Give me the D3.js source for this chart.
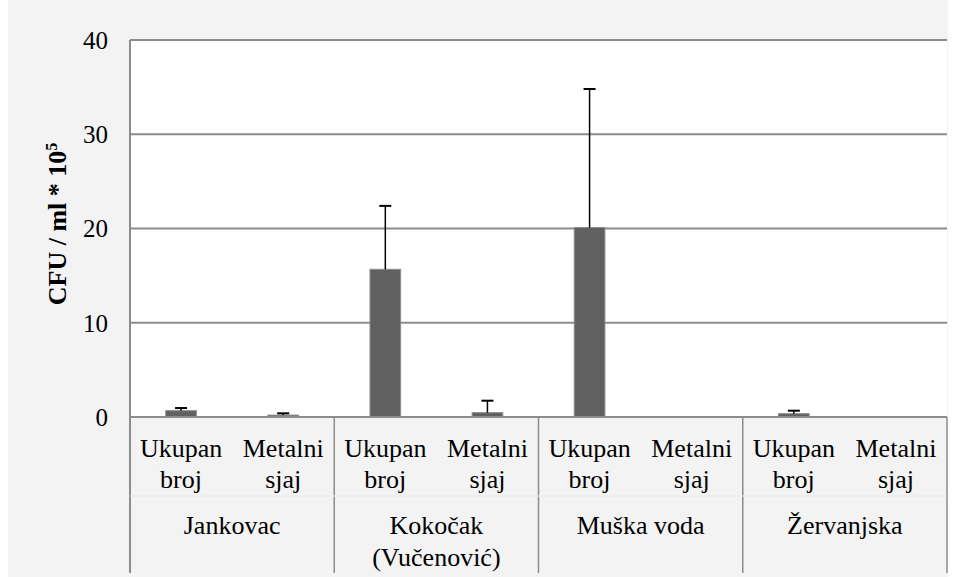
<!DOCTYPE html>
<html><head><meta charset="utf-8">
<script src="https://cdn.jsdelivr.net/npm/d3@7"></script>
</head><body style="margin:0"><svg id="c" width="963" height="577"></svg>
<script>
const groups = [["Jankovac"], ["Kokočak", "(Vučenović)"], ["Muška voda"], ["Žervanjska"]];
const subLabels = [["Ukupan", "broj"], ["Metalni", "sjaj"]];
const categories = ["J-U", "J-M", "K-U", "K-M", "M-U", "M-M", "Z-U", "Z-M"];
const values = [0.67, 0.2, 15.67, 0.46, 20.1, 0.02, 0.35, 0.03];
const errUpper = [0.28, 0.19, 6.73, 1.27, 14.7, 0, 0.32, 0];
const yTicks = [0, 10, 20, 30, 40];

const FONT = "'Liberation Serif'";
const svg = d3.select("#c");
const L = 130, R = 947, T = 40, B = 417;
svg.append("rect").attr("x", 8).attr("y", 0).attr("width", 940).attr("height", 577).attr("fill", "#f3f3f3");
svg.append("rect").attr("x", L).attr("y", T).attr("width", R - L).attr("height", B - T).attr("fill", "#fff");

const x = d3.scaleBand().domain(categories).range([L, R]).paddingInner(0.7).paddingOuter(0.35);
const y = d3.scaleLinear().domain([0, 40]).range([B, T]);
const grid = "#8c8c8c";

svg.append("g").selectAll("line").data(yTicks).join("line")
  .attr("x1", L).attr("x2", R).attr("y1", d => y(d)).attr("y2", d => y(d))
  .attr("stroke", grid).attr("stroke-width", 2);

svg.append("g").selectAll("rect").data(values).join("rect")
  .attr("x", (d, i) => x(categories[i])).attr("width", x.bandwidth())
  .attr("y", d => y(d)).attr("height", d => B - y(d))
  .attr("fill", "#606060").attr("stroke", "#8a8a8a").attr("stroke-width", 1);
const eb = svg.append("g").selectAll("g").data(values.map((v, i) => ({v, e: errUpper[i], c: categories[i]})).filter(d => d.e > 0)).join("g");
eb.append("line").attr("x1", d => x(d.c) + x.bandwidth() / 2).attr("x2", d => x(d.c) + x.bandwidth() / 2)
  .attr("y1", d => y(d.v)).attr("y2", d => y(d.v + d.e)).attr("stroke", "#000").attr("stroke-width", 1.5);
eb.append("line").attr("x1", d => x(d.c) + x.bandwidth() / 2 - 6).attr("x2", d => x(d.c) + x.bandwidth() / 2 + 6)
  .attr("y1", d => y(d.v + d.e)).attr("y2", d => y(d.v + d.e)).attr("stroke", "#000").attr("stroke-width", 2);

svg.append("line").attr("x1", L).attr("x2", L).attr("y1", T).attr("y2", 573).attr("stroke", grid).attr("stroke-width", 2);
svg.append("line").attr("x1", L).attr("x2", R).attr("y1", B).attr("y2", B).attr("stroke", grid).attr("stroke-width", 2);
const step = x.step();
groups.forEach((g, i) => {
  const gx = L + (i + 1) * step * 2;
  svg.append("line").attr("x1", gx).attr("x2", gx).attr("y1", B).attr("y2", 573).attr("stroke", grid).attr("stroke-width", 1.5);
});
svg.append("line").attr("x1", L).attr("x2", R).attr("y1", 496).attr("y2", 496).attr("stroke", "#e9e9e9").attr("stroke-width", 1);

// y tick labels (positions from the y scale)
svg.append("g").selectAll("text").data(yTicks).join("text")
  .attr("x", 108).attr("y", d => y(d)).attr("dy", "0.35em").attr("text-anchor", "end")
  .attr("font-size", 25).style("font-family", FONT).text(d => d);

categories.forEach((c, i) => {
  const cx = x(c) + x.bandwidth() / 2;
  subLabels[i % 2].forEach((t, k) => svg.append("text").attr("x", cx).attr("y", 457 + k * 31)
    .attr("text-anchor", "middle").attr("font-size", 26).style("font-family", FONT).text(t));
});
groups.forEach((g, i) => {
  const cx = L + (i + 0.5) * step * 2;
  g.forEach((t, k) => svg.append("text").attr("x", cx).attr("y", 534 + k * 32)
    .attr("text-anchor", "middle").attr("font-size", 26).style("font-family", FONT).text(t));
});

const yt = svg.append("text").attr("transform", "translate(66,224) rotate(-90)")
  .attr("text-anchor", "middle").attr("font-size", 26).attr("font-weight", "bold").style("font-family", FONT);
yt.append("tspan").text("CFU / ml * 10");
yt.append("tspan").attr("dy", -9).attr("font-size", 16).text("5");
</script></body></html>
